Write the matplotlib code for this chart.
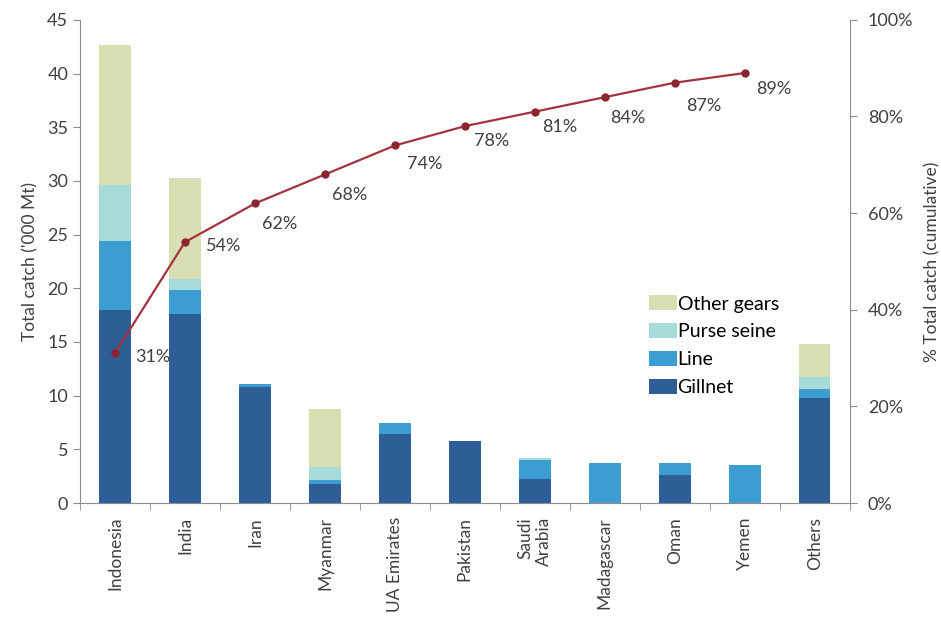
import matplotlib.pyplot as plt
import numpy as np
from matplotlib.ticker import PercentFormatter

plt.rcParams['font.family'] = ['Lato', 'DejaVu Sans']

COUNTRIES = ['Indonesia', 'India', 'Iran', 'Myanmar', 'UA Emirates', 'Pakistan',
             'Saudi\nArabia', 'Madagascar', 'Oman', 'Yemen', 'Others']

GILLNET = [18.0, 17.6, 10.8, 1.8, 6.4, 5.8, 2.2, 0.0, 2.6, 0.0, 9.8]
LINE = [6.4, 2.2, 0.3, 0.3, 1.05, 0.0, 1.8, 3.7, 1.1, 3.5, 0.8]
PURSE_SEINE = [5.2, 1.1, 0.0, 1.3, 0.0, 0.0, 0.2, 0.0, 0.0, 0.0, 1.1]
OTHER_GEARS = [13.1, 9.4, 0.0, 5.4, 0.0, 0.0, 0.0, 0.0, 0.0, 0.0, 3.1]

CUMULATIVE = [31, 54, 62, 68, 74, 78, 81, 84, 87, 89]

# label nudges (pixels) as placed in the original
LABEL_DX = [20, 21, 7, 7, 12, 9, 7, 5, 11, 11]
LABEL_DY = [-4, -4, -21, -21, -19, -15, -15, -21, -23, -16]

fig = plt.figure(figsize=(9.41, 6.21), dpi=100)
ax = fig.add_axes([0.085, 0.19, 0.818, 0.778])

x = np.arange(len(COUNTRIES))
gray = '#8c8c8c'
txt = '#404040'

series = [('Gillnet', GILLNET, '#2D5E96'),
          ('Line', LINE, '#3C9ED0'),
          ('Purse seine', PURSE_SEINE, '#A6DBD9'),
          ('Other gears', OTHER_GEARS, '#D8E0B3')]
bottom = np.zeros(len(COUNTRIES))
handles = []
for name, vals, col in series:
    b = ax.bar(x, vals, 0.45, bottom=bottom, color=col, label=name, zorder=2)
    handles.append(b)
    bottom += np.array(vals)

ax.set_xlim(-0.5, len(COUNTRIES) - 0.5)
ax.set_ylim(0, 45)
ax.set_yticks(range(0, 46, 5))
ax.set_ylabel("Total catch ('000 Mt)", fontsize=12.5, color=txt, labelpad=6)
ax.set_xticks(x)
ax.set_xticklabels(COUNTRIES, rotation=90, fontsize=12.5, color=txt,
                   ha='center', va='top', multialignment='right')
ax.set_xticks(np.arange(-0.5, len(COUNTRIES), 1), minor=True)
ax.tick_params(axis='x', which='major', length=0, pad=10)
ax.tick_params(axis='x', which='minor', length=5, color=gray, direction='out')
ax.tick_params(axis='y', labelsize=13, labelcolor=txt, color=gray, length=5)
for s in ['left', 'bottom']:
    ax.spines[s].set_color(gray)
for s in ['top', 'right']:
    ax.spines[s].set_visible(False)

ax2 = ax.twinx()
ax2.set_ylim(0, 100)
ax2.set_yticks(range(0, 101, 20))
ax2.yaxis.set_major_formatter(PercentFormatter(decimals=0))
ax2.tick_params(axis='y', labelsize=13, labelcolor=txt, color=gray, length=5, pad=8)
ax2.set_ylabel('% Total catch (cumulative)', fontsize=12.5, color=txt, labelpad=8)
ax2.spines['right'].set_color(gray)
for s in ['top', 'left', 'bottom']:
    ax2.spines[s].set_visible(False)

cx = x[:len(CUMULATIVE)]
ax2.plot(cx, CUMULATIVE, color='#A3343F', lw=1.6, marker='o', ms=5,
         mfc='#8B2530', mec='#8B2530', zorder=3)
for xi, v, dx, dy in zip(cx, CUMULATIVE, LABEL_DX, LABEL_DY):
    ax2.annotate(f'{v}%', (xi, v), xytext=(dx, dy), textcoords='offset pixels',
                 fontsize=13, color=txt, ha='left', va='center')

ax.legend(handles[::-1], [h.get_label() for h in handles[::-1]],
          loc='upper left', bbox_to_anchor=(0.727, 0.45), frameon=False,
          fontsize=14, handlelength=1.4, handleheight=0.8,
          handletextpad=0.05, labelspacing=0.55, borderpad=0)

fig.savefig('out.png', dpi=100)
